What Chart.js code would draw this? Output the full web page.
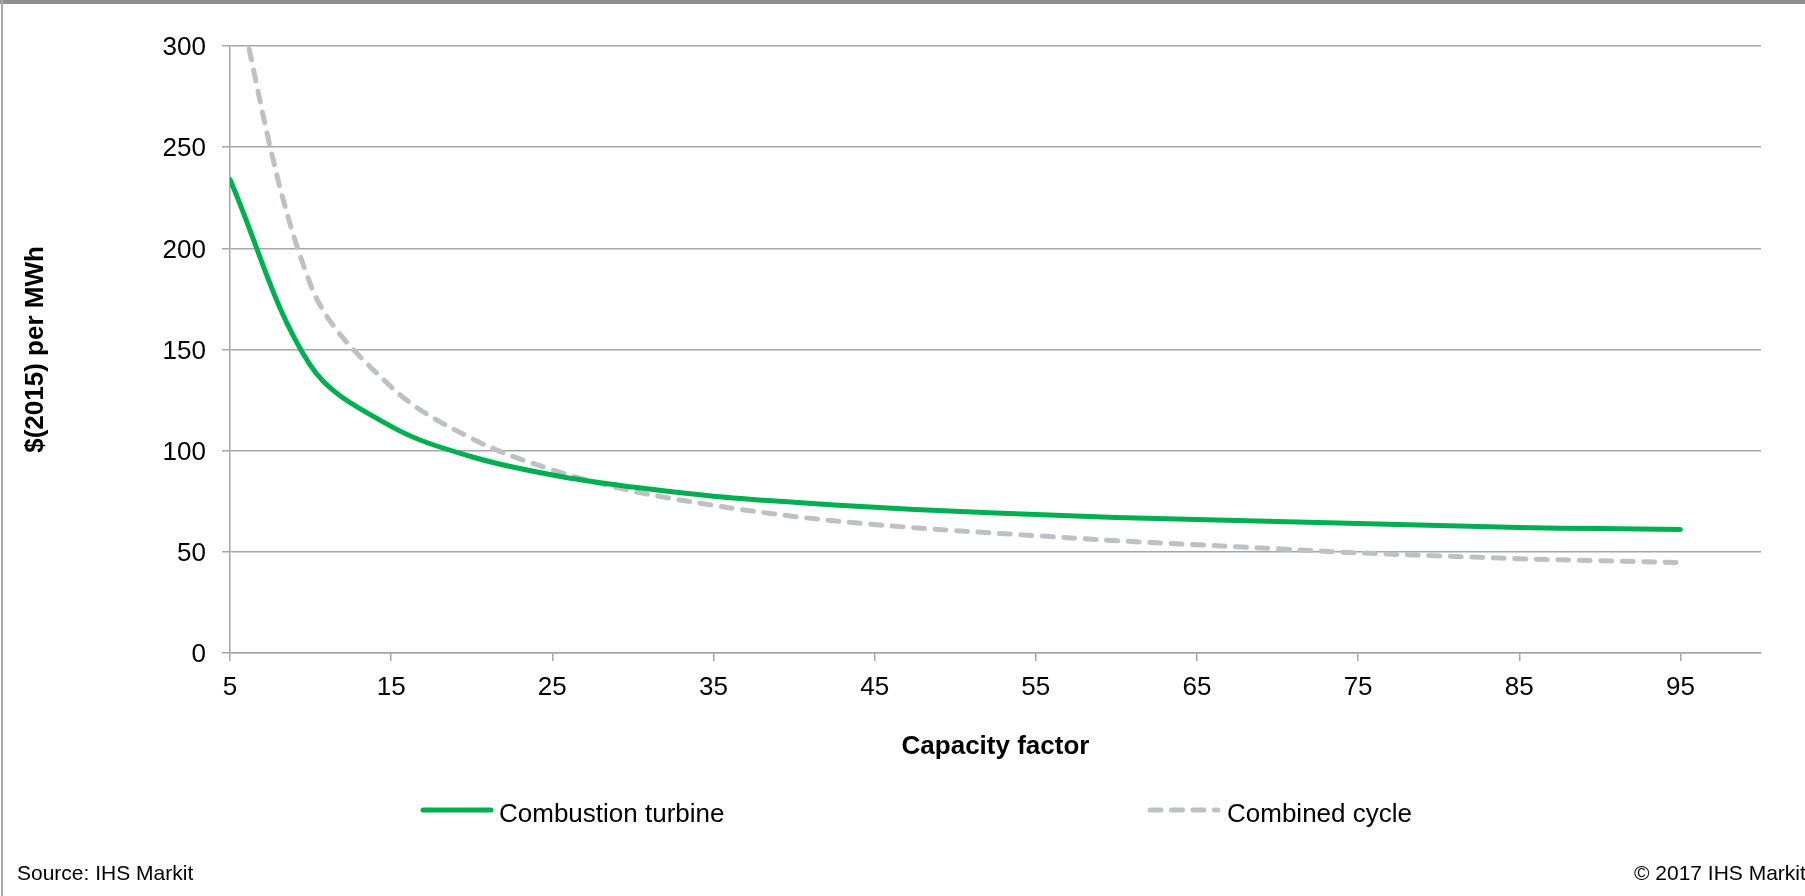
<!DOCTYPE html>
<html>
<head>
<meta charset="utf-8">
<title>Levelized cost by capacity factor</title>
<script src="https://cdn.jsdelivr.net/npm/chart.js@4/dist/chart.umd.min.js"></script>
<style>
  html, body { margin: 0; padding: 0; background: #ffffff; }
  #topbar { position: absolute; left: 0; top: 0; width: 1805px; height: 4px; background: #8f8f8f; }
  #leftline { position: absolute; left: 1px; top: 0; width: 2px; height: 896px; background: #aaaaaa; }
  #wrap { position: absolute; left: 0; top: 0; width: 1805px; height: 896px; }
</style>
</head>
<body>
<div id="topbar"></div>
<div id="leftline"></div>
<div id="wrap"><canvas id="c" width="1805" height="896"></canvas></div>
<script>
// Capacity factor (%) at which each cost is given
const capacityFactor = [5, 10, 15, 20, 25, 30, 35, 40, 45, 50, 55, 60, 65, 70, 75, 80, 85, 90, 95];

// $(2015) per MWh
const combustionTurbine = [234, 142, 112, 97, 88, 82, 77.5, 74.5, 72, 70, 68.5, 67, 66, 65, 64, 63, 62, 61.5, 61];
const combinedCycle = [340, 182, 131.5, 106, 90.5, 80, 73, 67.5, 63.5, 60.5, 58, 55.5, 53.5, 51.5, 49.5, 48, 46.6, 45.6, 44.7];

// Axis tick values
const xTickValues = [5, 15, 25, 35, 45, 55, 65, 75, 85, 95];
const yTickValues = [0, 50, 100, 150, 200, 250, 300];

const seriesNames = ['Combustion turbine', 'Combined cycle'];
const axisTitles = { x: 'Capacity factor', y: '$(2015) per MWh' };
const notes = { source: 'Source: IHS Markit', copyright: '\u00a9 2017 IHS Markit' };

const FONT = "'Liberation Sans', Arial, Helvetica, sans-serif";
const GRID = '#a6a6a6';

const toPoints = (xs, ys) => xs.map((x, i) => ({ x, y: ys[i] }));

// Legend row and source notes under the plot
const legendAndNotes = {
  id: 'legendAndNotes',
  afterDraw(chart) {
    const ctx = chart.ctx;
    const slots = [{ x: 423, textX: 499 }, { x: 1150, textX: 1227 }];
    const lineLen = 68;
    const y = 810;
    ctx.save();
    chart.data.datasets.forEach((ds, i) => {
      const s = slots[i];
      ctx.beginPath();
      ctx.strokeStyle = ds.borderColor;
      ctx.lineWidth = 5;
      ctx.lineCap = 'round';
      ctx.setLineDash(ds.borderDash || []);
      ctx.moveTo(s.x, y);
      ctx.lineTo(s.x + lineLen, y);
      ctx.stroke();
      ctx.setLineDash([]);
      ctx.fillStyle = '#000000';
      ctx.font = '26px ' + FONT;
      ctx.textAlign = 'left';
      ctx.textBaseline = 'alphabetic';
      ctx.fillText(ds.label, s.textX, y + 12);
    });
    ctx.font = '21px ' + FONT;
    ctx.fillStyle = '#000000';
    ctx.textBaseline = 'alphabetic';
    ctx.textAlign = 'left';
    ctx.fillText(notes.source, 17, 880);
    ctx.fillText(notes.copyright, 1634, 880);
    ctx.restore();
  }
};

const lineStyle = {
  borderWidth: 5,
  borderCapStyle: 'round',
  borderJoinStyle: 'round',
  pointRadius: 0,
  tension: 0.35,
  capBezierPoints: false,
  fill: false
};

new Chart(document.getElementById('c'), {
  type: 'line',
  data: {
    datasets: [
      Object.assign({
        label: seriesNames[0],
        data: toPoints(capacityFactor, combustionTurbine),
        borderColor: '#00b050'
      }, lineStyle),
      Object.assign({
        label: seriesNames[1],
        data: toPoints(capacityFactor, combinedCycle),
        borderColor: '#bfc0c4',
        borderDash: [11, 10.5],
        clip: 0
      }, lineStyle)
    ]
  },
  options: {
    responsive: false,
    animation: false,
    events: [],
    layout: { padding: { left: 0, right: 44, top: 46, bottom: 134 } },
    plugins: {
      legend: { display: false },
      tooltip: { enabled: false },
      title: { display: false }
    },
    scales: {
      x: {
        type: 'linear',
        min: 5,
        max: 100,
        afterBuildTicks: (scale) => { scale.ticks = xTickValues.map(v => ({ value: v })); },
        afterFit: (scale) => { scale.height = 109; },
        grid: { drawOnChartArea: false, drawTicks: true, tickLength: 8, color: GRID, lineWidth: 1.5 },
        border: { display: true, color: GRID, width: 1.5 },
        ticks: { color: '#000000', font: { family: FONT, size: 26 }, padding: 11, maxRotation: 0, autoSkip: false },
        title: { display: true, text: axisTitles.x, color: '#000000', font: { family: FONT, size: 26, weight: 'bold' }, padding: { top: 0, bottom: 0 } }
      },
      y: {
        type: 'linear',
        min: 0,
        max: 300,
        afterBuildTicks: (scale) => { scale.ticks = yTickValues.map(v => ({ value: v })); },
        afterFit: (scale) => { scale.width = 230; },
        grid: { drawOnChartArea: true, drawTicks: true, tickLength: 8, color: GRID, lineWidth: 1.5 },
        border: { display: true, color: GRID, width: 1.5 },
        ticks: { color: '#000000', font: { family: FONT, size: 26 }, padding: 16, labelOffset: 2 },
        title: { display: true, text: axisTitles.y, color: '#000000', font: { family: FONT, size: 26, weight: 'bold' }, padding: { top: 20, bottom: 0 } }
      }
    }
  },
  plugins: [legendAndNotes]
});
</script>
</body>
</html>
